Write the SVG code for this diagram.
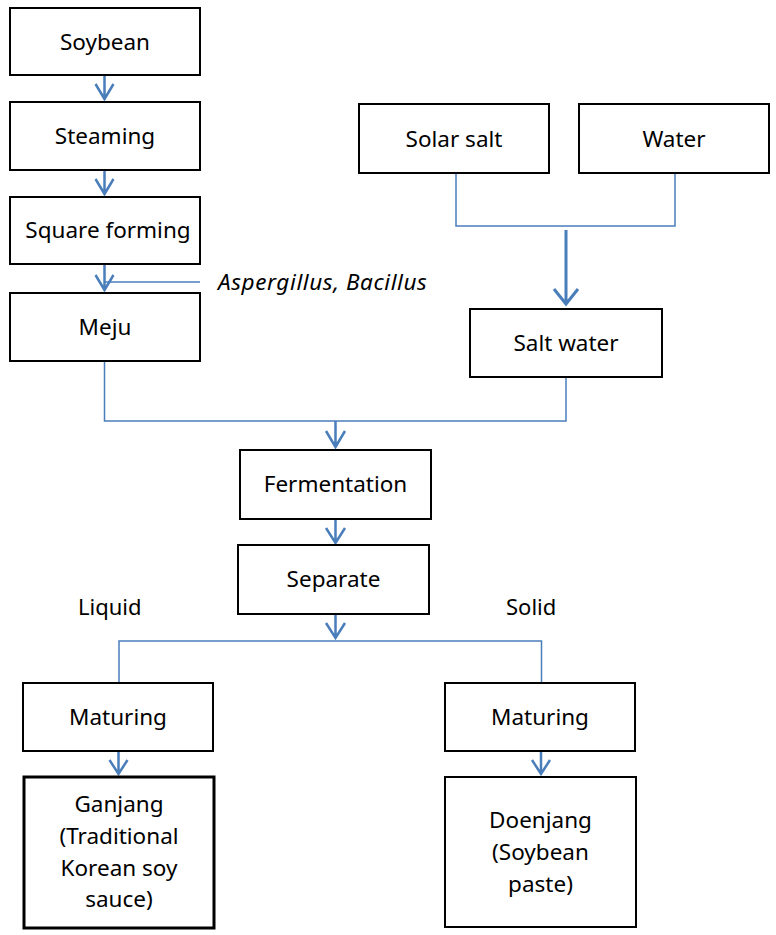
<svg xmlns="http://www.w3.org/2000/svg" width="776" height="935" viewBox="0 0 776 935">
<style>
  .box { fill: #ffffff; stroke: #000000; stroke-width: 2; }
  .thick { stroke-width: 3; }
  .lbl { font-family: "Noto Sans", "Liberation Sans", sans-serif; font-size: 22.5px; fill: #000000; text-anchor: middle; }
  .free { font-family: "Noto Sans", "Liberation Sans", sans-serif; font-size: 22px; fill: #000000; }
  .it { font-style: italic; font-size: 22.5px; letter-spacing: 0.6px; }
  .conn { fill: none; stroke: #4a7ebb; stroke-width: 1.5; }
  .arr { fill: none; stroke: #4a7ebb; stroke-width: 2.5; stroke-linejoin: miter; }
  .arrw { fill: none; stroke: #4a7ebb; stroke-width: 3; }
</style>
<rect width="776" height="935" fill="#ffffff"/>
<g id="connectors">
  <path class="arr" d="M104.5 75 V99 M95.5 84 L104.5 99 L113.5 84"/>
  <path class="arr" d="M104.5 170 V194 M95.5 179 L104.5 194 L113.5 179"/>
  <path class="conn" d="M200 282 H104.5"/>
  <path class="arr" d="M104.5 264 V290 M95.5 275 L104.5 290 L113.5 275"/>
  <path class="conn" d="M456 173 V226 H675 V173"/>
  <path class="arrw" d="M566 230 V304 M554 289 L566 304 L578 289"/>
  <path class="conn" d="M104.5 361 V421 H566 V377"/>
  <path class="arr" d="M335.5 421 V447 M326 431 L335.5 447 L345 431"/>
  <path class="arr" d="M335.5 519 V543 M326 528 L335.5 543 L345 528"/>
  <path class="arr" d="M335.5 614 V638 M326 623 L335.5 638 L345 623"/>
  <path class="conn" d="M119 683 V641 H541.5 V683"/>
  <path class="arr" d="M118.5 751 V774 M109.5 760 L118.5 774 L127.5 760"/>
  <path class="arr" d="M541 751 V774 M532 760 L541 774 L550 760"/>
</g>
<g id="soybean"><rect class="box" x="10" y="8" width="190" height="67"/><text class="lbl" x="105" y="50">Soybean</text></g>
<g id="steaming"><rect class="box" x="10" y="102" width="190" height="68"/><text class="lbl" x="105" y="144">Steaming</text></g>
<g id="square-forming"><rect class="box" x="10" y="197" width="190" height="67"/><text class="lbl" x="108" y="238">Square forming</text></g>
<g id="microbes"><text class="free it" x="218" y="290">Aspergillus, Bacillus</text></g>
<g id="meju"><rect class="box" x="10" y="293" width="190" height="68"/><text class="lbl" x="105" y="335">Meju</text></g>
<g id="solar-salt"><rect class="box" x="359" y="104" width="190" height="69"/><text class="lbl" x="454" y="147">Solar salt</text></g>
<g id="water"><rect class="box" x="579" y="104" width="190" height="69"/><text class="lbl" x="674" y="147">Water</text></g>
<g id="salt-water"><rect class="box" x="470" y="309" width="192" height="68"/><text class="lbl" x="566" y="351">Salt water</text></g>
<g id="fermentation"><rect class="box" x="240" y="450" width="191" height="69"/><text class="lbl" x="335.5" y="492">Fermentation</text></g>
<g id="separate"><rect class="box" x="238" y="545" width="191" height="69"/><text class="lbl" x="333.5" y="587">Separate</text></g>
<g id="liquid"><text class="free" x="78" y="615">Liquid</text></g>
<g id="solid"><text class="free" x="506" y="615">Solid</text></g>
<g id="maturing-left"><rect class="box" x="23" y="683" width="190" height="68"/><text class="lbl" x="118" y="725">Maturing</text></g>
<g id="maturing-right"><rect class="box" x="445" y="683" width="190" height="68"/><text class="lbl" x="540" y="725">Maturing</text></g>
<g id="ganjang"><rect class="box thick" x="24" y="777" width="190" height="151"/>
  <text class="lbl" x="119" y="812">Ganjang</text>
  <text class="lbl" x="119" y="844">(Traditional</text>
  <text class="lbl" x="119" y="876">Korean soy</text>
  <text class="lbl" x="119" y="907">sauce)</text>
</g>
<g id="doenjang"><rect class="box" x="445" y="777" width="191" height="150"/>
  <text class="lbl" x="540.5" y="828">Doenjang</text>
  <text class="lbl" x="540.5" y="860">(Soybean</text>
  <text class="lbl" x="540.5" y="892">paste)</text>
</g>
</svg>
